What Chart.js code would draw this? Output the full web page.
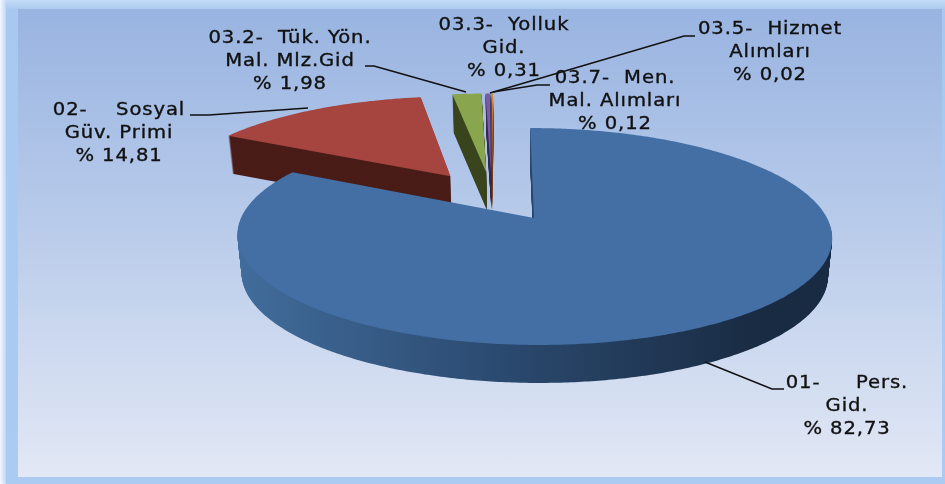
<!DOCTYPE html>
<html lang="tr">
<head>
<meta charset="utf-8">
<title>Gider dağılımı</title>
<script src="https://cdn.jsdelivr.net/npm/chart.js@4"></script>
<style>
  html, body { margin: 0; width: 945px; height: 484px; overflow: hidden; background: #fff; }
  .band { position: absolute; left: 6px; top: 0; width: 945px; height: 484px;
          background: linear-gradient(#c4dcf7 0, #a9c8f0 10px, #abcbf3 100%);
          box-shadow: 0 0 6px 3px #b4d0f4; }
  .panel { position: absolute; left: 18px; top: 9px; width: 924px; height: 468px;
           background: linear-gradient(#99b4e1 0%, #b4c8e9 40%, #e2e8f5 100%); }
  canvas { position: absolute; left: 0; top: 0; }
</style>
</head>
<body>
<div class="band"></div>
<div class="panel"></div>
<canvas id="chart" width="945" height="484"></canvas>
<script>
// ============================================
// Data
// ============================================
const categories = ['01- Pers. Gid.', '02- Sosyal Güv. Primi', '03.2- Tük. Yön. Mal. Mlz.Gid', '03.3- Yolluk Gid.', '03.5- Hizmet Alımları', '03.7- Men. Mal. Alımları'];
const shares = [82.73, 14.81, 1.98, 0.31, 0.02, 0.12];
const labelText = [
    ['01-     Pers.', 'Gid.', '% 82,73'],
    ['02-    Sosyal', 'Güv. Primi', '% 14,81'],
    ['03.2-  Tük. Yön.', 'Mal. Mlz.Gid', '% 1,98'],
    ['03.3-  Yolluk', 'Gid.', '% 0,31'],
    ['03.5-  Hizmet', 'Alımları', '% 0,02'],
    ['03.7-  Men.', 'Mal. Alımları', '% 0,12']
];

// ============================================
// Styles and layout
// ============================================
const faceColors = ['#446fa4', '#a64540', '#89a54e', '#7a5ca3', '#3f9fb8', '#e58a34'];
const sideColors = ['#2b4a70', '#4a1c18', '#3a451e', '#3b2b55', '#1f5563', '#7a4518'];
const sliceNudgeX = [0, -11, -7, -7, -7, -7];
const sliceNudgeY = [0, -3, -3, -3, -3, -3];
const labelCenters = [[847, 383], [119, 110], [290, 38], [504, 25], [770, 29], [615, 78]];
const leaderLines = [
    [[705, 362], [772, 389], [784, 389]],
    [[190, 115], [209, 115], [308, 108]],
    [[365, 66], [374, 66], [466, 92]],
    [[490, 93], [684, 36], [695, 36]],
    [[493, 92], [537, 85], [550, 85]]
];
const view = { apexX: 534, apexY: 218, spanX: 293, spanY: 105.3, shear: 4.5, persp: -0.1705, depth: 38, inset: 0.014 };
const textStretch = 1.12;

// Tilts the flat pie from the library into the 3D look of the original
function project(wu, wv) {
    const den = 1 + view.persp * wv;
    return {
        x: view.apexX + (view.spanX * wu + view.shear * wv) / den,
        y: view.apexY + view.spanY * wv / den
    };
}

function sliceOutline(el, origin, nudgeX, nudgeY) {
    const { x, y, startAngle, endAngle, outerRadius } = el.getProps(['x', 'y', 'startAngle', 'endAngle', 'outerRadius']);
    const mid = (startAngle + endAngle) / 2;
    const off = el.options.offset;
    const cu = (x + Math.cos(mid) * off - origin.x) / outerRadius;
    const cv = (y + Math.sin(mid) * off - origin.y) / outerRadius;
    const steps = Math.max(2, Math.ceil((endAngle - startAngle) / 0.01));
    const pts = [project(cu, cv)];
    for (let i = 0; i <= steps; i++) {
        const a = startAngle + (endAngle - startAngle) * i / steps;
        pts.push(project(cu + Math.cos(a), cv + Math.sin(a)));
    }
    pts.forEach(p => {
        p.x += nudgeX;
        p.y += nudgeY;
    });
    return pts;
}

function fillOutline(ctx, pts, drop, fill) {
    const shrink = 1 - view.inset * drop / view.depth;
    ctx.beginPath();
    pts.forEach((p, i) => {
        const px = view.apexX + (p.x - view.apexX) * shrink;
        if (i === 0) ctx.moveTo(px, p.y + drop);
        else ctx.lineTo(px, p.y + drop);
    });
    ctx.closePath();
    ctx.fillStyle = fill;
    ctx.fill();
}

const tiltedPie = {
    id: 'tiltedPie',
    beforeDatasetDraw(chart) {
        const ctx = chart.ctx;
        const arcs = chart.getDatasetMeta(0).data;
        const first = arcs[0].getProps(['x', 'y', 'startAngle', 'endAngle']);
        const firstMid = (first.startAngle + first.endAngle) / 2;
        const origin = {
            x: first.x + Math.cos(firstMid) * arcs[0].options.offset,
            y: first.y + Math.sin(firstMid) * arcs[0].options.offset
        };
        const frontWall = ctx.createLinearGradient(240, 0, 760, 0);
        frontWall.addColorStop(0, '#416c9b');
        frontWall.addColorStop(0.5, '#2b4a70');
        frontWall.addColorStop(1, '#192b42');

        // far slices first, the big one sits in front of them
        for (let i = arcs.length - 1; i >= 0; i--) {
            const pts = sliceOutline(arcs[i], origin, sliceNudgeX[i], sliceNudgeY[i]);
            for (let d = view.depth; d >= 1; d--) {
                fillOutline(ctx, pts, d, i === 0 ? frontWall : sideColors[i]);
            }
            fillOutline(ctx, pts, 0, faceColors[i]);
        }
        return false;
    },
    afterDraw(chart) {
        const ctx = chart.ctx;
        ctx.save();
        ctx.strokeStyle = '#111';
        ctx.lineWidth = 1.6;
        leaderLines.forEach(line => {
            ctx.beginPath();
            line.forEach((p, i) => (i === 0 ? ctx.moveTo(p[0], p[1]) : ctx.lineTo(p[0], p[1])));
            ctx.stroke();
        });
        ctx.fillStyle = '#111';
        ctx.font = '17.5px "DejaVu Sans"';
        ctx.letterSpacing = '0.8px';
        ctx.textAlign = 'center';
        ctx.textBaseline = 'middle';
        ctx.lineWidth = 0.35;
        labelText.forEach((lines, i) => {
            lines.forEach((text, j) => {
                ctx.save();
                ctx.translate(labelCenters[i][0], labelCenters[i][1] + j * 23);
                ctx.scale(textStretch, 1);
                ctx.fillText(text, 0, 0);
                ctx.strokeText(text, 0, 0);
                ctx.restore();
            });
        });
        ctx.restore();
    }
};

new Chart(document.getElementById('chart'), {
    type: 'pie',
    data: {
        labels: categories,
        datasets: [{
            data: shares,
            backgroundColor: faceColors,
            borderWidth: 0,
            offset: 51
        }]
    },
    options: {
        responsive: false,
        animation: false,
        layout: { padding: 0 },
        plugins: {
            legend: { display: false },
            tooltip: { enabled: false }
        }
    },
    plugins: [tiltedPie]
});
</script>
</body>
</html>
